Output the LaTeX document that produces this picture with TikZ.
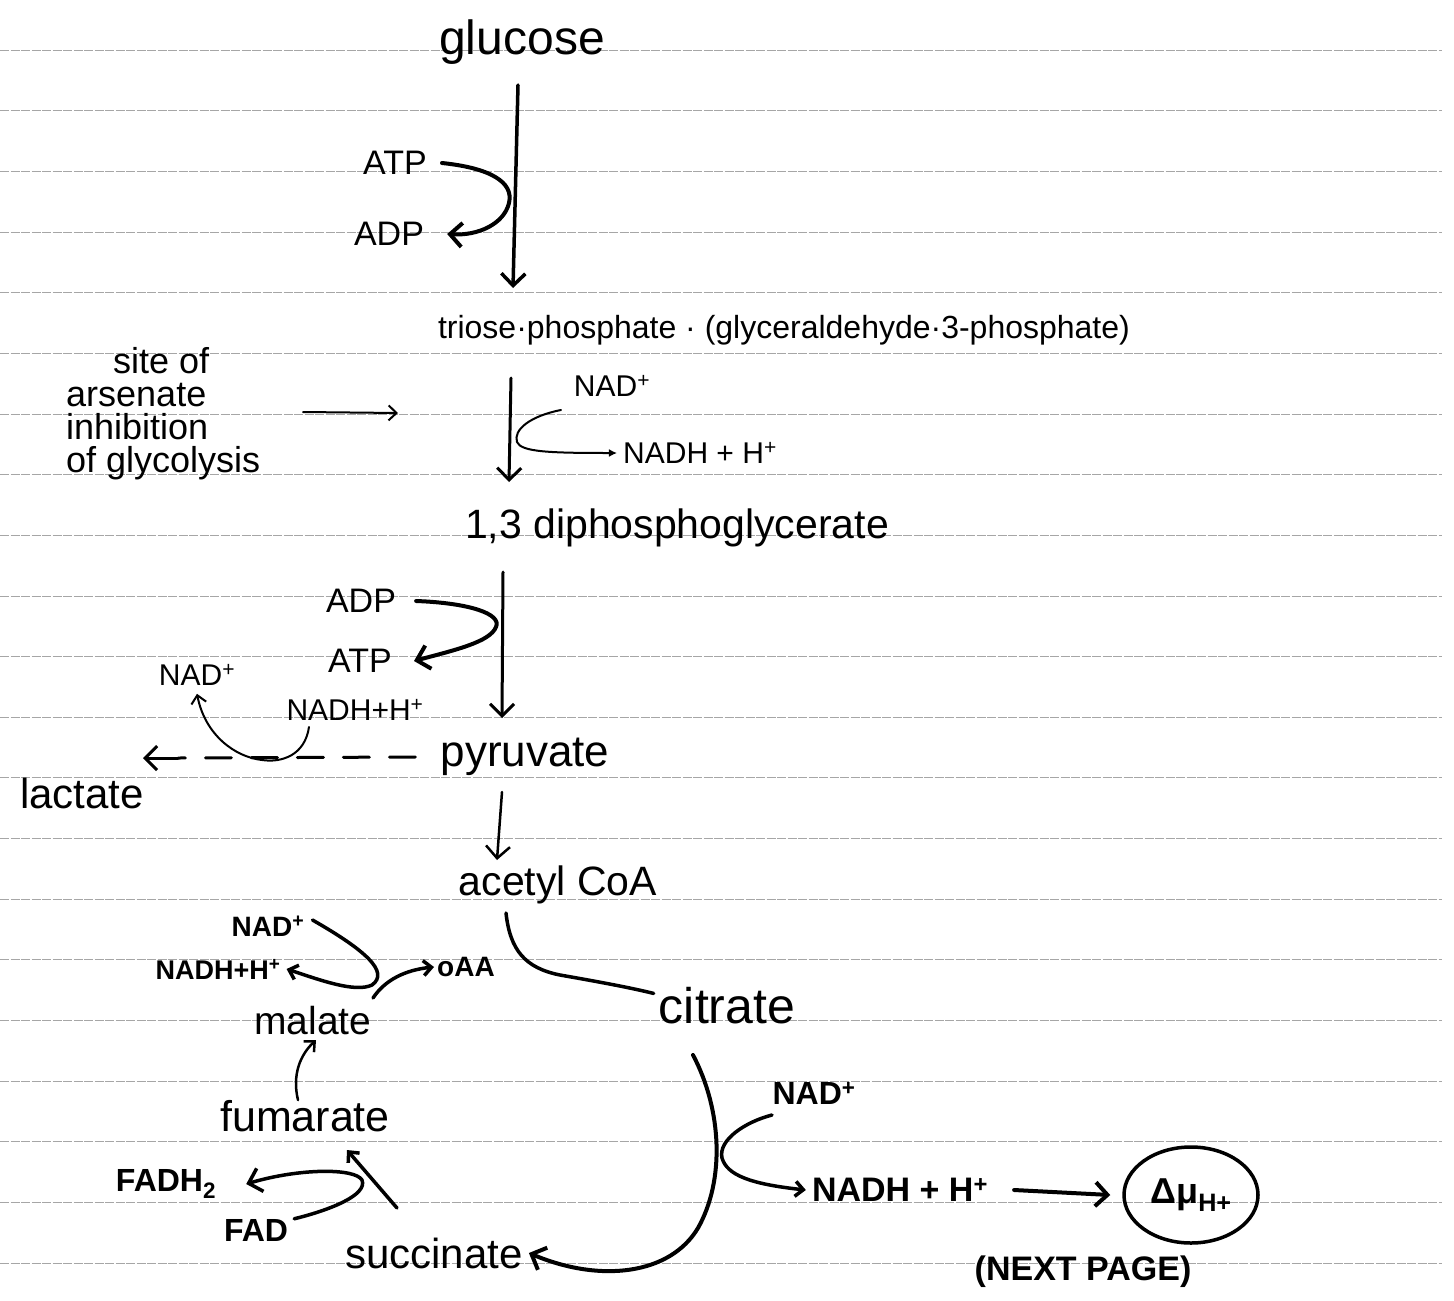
\documentclass[tikz,border=0pt]{standalone}
\usepackage{fontspec}
\setmainfont{Liberation Sans}
\usetikzlibrary{arrows.meta,shapes.geometric}
\begin{document}
\begin{tikzpicture}[x=1pt,y=-1pt,
  rule/.style={draw=black!35, line width=0.7pt, dash pattern=on 9pt off 1.5pt},
  fs/.style={inner sep=0pt, font=\fontsize{#1}{#1}\selectfont},
  fb/.style={inner sep=0pt, font=\fontsize{#1}{#1}\selectfont\bfseries},
  ink/.style={line width=#1, line cap=round, line join=round},
  vhead/.style={-{Straight Barb[length=12pt,width=24pt]}},
  shead/.style={-{Straight Barb[length=8pt,width=15pt]}},
  thead/.style={-{Latex[length=8pt,width=8pt]}}
]
\fill[white] (0,0) rectangle (1454,1301);
\useasboundingbox (0,0) rectangle (1454,1301);

% ruled paper
\foreach \k in {0,...,20} \draw[rule] (0,{50+60.65*\k}) -- (1442,{50+60.65*\k});

% ---- nodes ----
\node[fs=48] (g) at (522,42) {glucose};
\node[fs=34] (atp1) at (395,163) {ATP};
\node[fs=34] (adp1) at (389,234) {ADP};
\node[fs=32] (tp) at (784,330) {triose·phosphate · (glyceraldehyde·3-phosphate)};
\node[anchor=west, align=left, inner sep=0pt, font=\fontsize{36}{33}\selectfont] (site) at (66,414)
  {\hspace*{47pt}site of\\arsenate\\inhibition\\of glycolysis};
\node[fs=30] (nad1) at (612,386) {NAD\textsuperscript{+}};
\node[fs=30] (nadh1) at (700,453) {NADH + H\textsuperscript{+}};
\node[fs=41] (dpg) at (677,528) {1,3 diphosphoglycerate};
\node[fs=34] (adp2) at (361,601) {ADP};
\node[fs=34] (atp2) at (360,661) {ATP};
\node[fs=30] (nad2) at (197,675) {NAD\textsuperscript{+}};
\node[fs=30] (nadh2) at (355,710) {NADH+H\textsuperscript{+}};
\node[fs=44] (pyr) at (525,757) {pyruvate};
\node[fs=42] (lac) at (82,793) {lactate};
\node[fs=41] (aca) at (558,885) {acetyl CoA};
\node[fs=50] (cit) at (727,1006) {citrate};
\node[fb=28] (nad3) at (268,926) {NAD\textsuperscript{+}};
\node[fb=27] (nadh3) at (218,969) {NADH+H\textsuperscript{+}};
\node[fb=28] (oaa) at (466,967) {oAA};
\node[fs=39] (mal) at (313,1021) {malate};
\node[fs=43] (fum) at (305,1116) {fumarate};
\node[fb=32] (fadh) at (166,1184) {FADH\textsubscript{2}};
\node[fb=32] (fad) at (256,1230) {FAD};
\node[fs=42] (suc) at (434,1253) {succinate};
\node[fb=32] (nad4) at (814,1093) {NAD\textsuperscript{+}};
\node[fb=34] (nadh4) at (900,1190) {NADH + H\textsuperscript{+}};
\node[draw, ellipse, line width=3.5pt, minimum width=134pt, minimum height=96pt,
      inner sep=0pt, font=\fontsize{36}{36}\selectfont\bfseries] (dmu) at (1191,1195)
      {Δμ\textsubscript{H+}};
\node[fb=34] (np) at (1083,1272) {(NEXT PAGE)};

% ---- connector end points ----
\coordinate (g1) at (518,85);   \coordinate (g2) at (513,288);
\coordinate (t1) at (511,378);  \coordinate (t2) at (509,482);
\coordinate (d1) at (503,572);  \coordinate (d2) at (502,718);
\coordinate (p1) at (502,792);  \coordinate (p2) at (497,860);
\coordinate (ars) at (303,412);

% glycolysis main arrows
\draw[ink=3.5pt, vhead] (g1) -- (g2);
\draw[ink=3pt, vhead] (t1) -- (t2);
\draw[ink=3pt, vhead] (d1) -- (d2);
\draw[ink=2.5pt, vhead] (p1) -- (p2);

% ATP -> ADP
\draw[ink=4pt, vhead] ([xshift=15pt]atp1.east) .. controls (490,168) and (514,182) .. (509,203)
   .. controls (504,224) and (478,236) .. ([xshift=23pt]adp1.east);

% arsenate arrow
\draw[ink=2pt, shead] (ars) -- (398,413);

% NAD+ -> NADH + H+
\draw[ink=2pt, thead] (561,410) .. controls (530,416) and (513,430) .. (517,442)
   .. controls (521,452) and (550,453) .. ([xshift=-6pt]nadh1.west);

% ADP -> ATP
\draw[ink=4pt, vhead] ([xshift=20pt]adp2.east) .. controls (470,603) and (502,614) .. (496,627)
   .. controls (490,642) and (455,650) .. ([xshift=22pt]atp2.east);

% pyruvate - - -> lactate
\draw[ink=3pt, dash pattern=on 26pt off 20pt] ([xshift=-25pt]pyr.west) -- (178,758);
\draw[ink=3pt, vhead] (178,758) -- (143,758);

% NADH+H+ -> NAD+
\draw[ink=2pt, shead] (309,727) .. controls (305,755) and (282,763) .. (262,760)
   .. controls (235,757) and (205,735) .. ([yshift=-8pt]nad2.south);

% acetyl CoA -> citrate
\draw[ink=3.5pt] (506,913) .. controls (510,950) and (525,968) .. (560,975)
   .. controls (600,982) and (632,988) .. ([xshift=-5pt,yshift=-6pt]cit.north west);

% NAD+ -> NADH+H+ (malate -> oAA)
\draw[ink=3.5pt, shead] ([xshift=8pt,yshift=6pt]nad3.east) .. controls (365,950) and (390,972) .. (372,985)
   .. controls (355,993) and (320,980) .. ([xshift=6pt]nadh3.east);
\draw[ink=3.5pt, shead] (373,998) .. controls (385,980) and (405,970) .. ([xshift=-3pt]oaa.west);

% fumarate -> malate
\draw[ink=2.5pt, shead] ([xshift=-7pt]fum.north) .. controls (292,1075) and (300,1055) .. (316,1040);

% succinate -> fumarate ; FAD -> FADH2
\draw[ink=3.5pt, shead] (397,1208) -- (347,1150);
\draw[ink=3.5pt, vhead] ([xshift=6pt]fad.north east) .. controls (330,1210) and (368,1195) .. (362,1180)
   .. controls (355,1168) and (300,1168) .. ([xshift=30pt]fadh.east);

% citrate -> succinate
\draw[ink=4pt, vhead] (693,1055) .. controls (722,1110) and (725,1180) .. (698,1228)
   .. controls (670,1275) and (600,1283) .. ([xshift=6pt]suc.east);

% NAD+ -> NADH + H+
\draw[ink=3.5pt, shead] (772,1115) .. controls (745,1122) and (718,1140) .. (722,1158)
   .. controls (727,1175) and (750,1184) .. ([xshift=-6pt]nadh4.west);

% NADH + H+ -> Delta mu H+
\draw[ink=4pt, vhead] ([xshift=26pt]nadh4.east) -- ([xshift=-12pt]dmu.west);
\end{tikzpicture}
\end{document}
